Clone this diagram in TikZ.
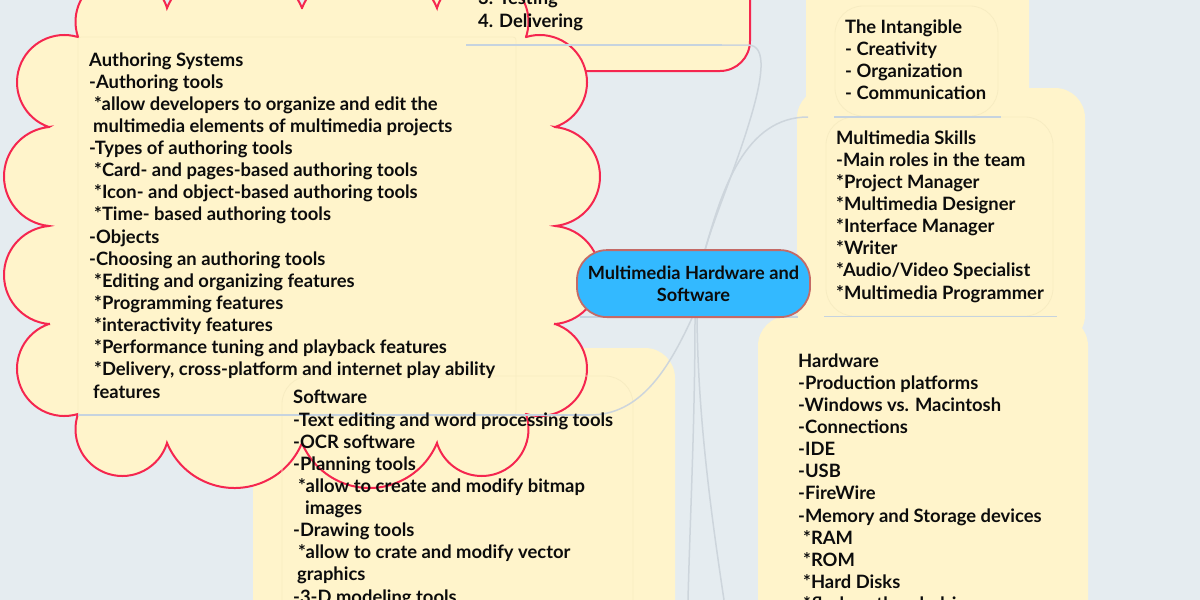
\documentclass[tikz,border=0pt]{standalone}
\usepackage{fontspec}
\setmainfont{Lato}
\definecolor{bgc}{HTML}{E5ECF0}
\definecolor{pan}{HTML}{FFF4CB}
\definecolor{redc}{HTML}{F5264F}
\definecolor{linec}{HTML}{CDD5DC}
\definecolor{ulinec}{HTML}{C6D3DF}
\definecolor{bluec}{HTML}{33B9FF}
\definecolor{bluerim}{HTML}{C46A66}
\definecolor{txt}{HTML}{0C0C0C}
\definecolor{innerc}{HTML}{F7ECC2}
\newcommand{\lobe}[5]{-- ([shift={(#4:#3)}]#1,#2) arc[start angle=#4,end angle=#5,radius=#3]}
\tikzset{
  panelbox/.style={fill=pan,draw=none,rounded corners=30pt},
  innerbox/.style={fill=pan,draw=innerc,line width=0.8pt,rounded corners=28pt},
  conn/.style={draw=linec,line width=1.5pt},
  uline/.style={draw=ulinec,line width=1.8pt},
  lbl/.style={anchor=north west,inner sep=0pt,align=left,text=txt,font=\fontsize{18.4}{22.13}\selectfont\bfseries},
}
\begin{document}
\begin{tikzpicture}[x=1pt,y=-1pt]
\useasboundingbox (0,0) rectangle (1200,600);
\fill[bgc] (0,0) rectangle (1200,600);
% named anchors
\coordinate (hub) at (705,250);
\coordinate (hubS) at (692,318);
\coordinate (hubD1) at (695,318);
\coordinate (hubD2) at (697,318);
\coordinate (endD1) at (688,600);
\coordinate (endD2) at (724,600);
\coordinate (skillEnd) at (808,117);
% panels
\fill[panelbox] (806,-40) rectangle (1029,130);
\fill[panelbox] (797,88) rectangle (1085,345);
\fill[panelbox] (758,316) rectangle (1088,640);
\fill[panelbox] (253,348) rectangle (675,640);
% top box
\draw[fill=pan,draw=redc,line width=2pt,rounded corners=30pt] (420,-40) rectangle (750,71);
% cloud
\draw[fill=pan,draw=redc,line width=2pt,line join=miter] (78,37)
 \lobe{122.3}{21.8}{46.8}{161.1}{342.8}
 \lobe{234.5}{36.1}{73.1}{202.6}{337.4}
 \lobe{369.5}{36.1}{73.1}{202.6}{337.4}
 \lobe{481.7}{21.8}{46.8}{197.2}{378.9}
 \lobe{539.7}{82.3}{47.3}{253.2}{431.1}
 \lobe{550.3}{176.5}{49.7}{275.4}{444.6}
 \lobe{550.8}{275}{49.2}{274.9}{445.1}
 \lobe{539.7}{368.7}{47.3}{-71.1}{106.8}
 \lobe{481.7}{429.2}{46.8}{-18.9}{162.8}
 \lobe{369.5}{414.9}{73.1}{22.6}{157.4}
 \lobe{234.5}{414.9}{73.1}{22.6}{157.4}
 \lobe{122.3}{429.2}{46.8}{17.2}{198.9}
 \lobe{64.3}{368.7}{47.3}{73.2}{251.1}
 \lobe{53.2}{275}{49.2}{94.9}{265.1}
 \lobe{53.7}{176.5}{49.7}{95.4}{264.6}
 \lobe{64.3}{82.3}{47.3}{108.9}{286.8}
 -- cycle;
% inner boxes
\draw[draw=innerc,line width=0.8pt,rounded corners=3pt] (78,37) rectangle (516,415);
\draw[draw=innerc,line width=0.8pt,rounded corners=28pt] (282,376) rectangle (633,640);
\draw[innerbox] (835,6) rectangle (998,116);
\draw[innerbox] (826,117) rectangle (1053,316);
% connectors
\draw[uline] (78,415) -- (590,415);
\draw[conn] (590,415) .. controls (640,415) and (668,370) .. (hubS);
\draw[uline] (466,45) -- (722,45);
\draw[conn] (722,45) -- (748,45) .. controls (768,45) and (762,80) .. (750,120) .. controls (735,170) and (715,215) .. (hub) -- (701,262);
\draw[conn] (hub) .. controls (722,190) and (745,117) .. (skillEnd);
\draw[conn] (hubD1) .. controls (695,420) and (690,520) .. (endD1);
\draw[conn] (hubD2) .. controls (698,420) and (712,520) .. (endD2);
\draw[uline] (834,117) -- (1001,117);
\draw[uline] (824,316.5) -- (1057,316.5);
\draw[uline] (580,317) -- (798,317);
% centre
\node[draw=bluerim,fill=bluec,line width=1.8pt,rounded corners=30pt,minimum width=233pt,minimum height=67pt,inner sep=0pt,align=center,text=txt,font=\fontsize{18.2}{22.13}\selectfont\bfseries] (root) at (693.5,283.6) {Multimedia Hardware and\\Software};
% texts
\node[lbl] (plan) at (478,-9) {3. Testing\\4. Delivering};
\node[lbl] (auth) at (89,52.2) {Authoring Systems\\-Authoring tools\\\hspace*{5pt}*allow developers to organize and edit the\\\hspace*{4pt}multimedia elements of multimedia projects\\-Types of authoring tools\\\hspace*{5pt}*Card- and pages-based authoring tools\\\hspace*{5pt}*Icon- and object-based authoring tools\\\hspace*{5pt}*Time- based authoring tools\\-Objects\\-Choosing an authoring tools\\\hspace*{5pt}*Editing and organizing features\\\hspace*{5pt}*Programming features\\\hspace*{5pt}*interactivity features\\\hspace*{5pt}*Performance tuning and playback features\\\hspace*{5pt}*Delivery, cross-platform and internet play ability\\\hspace*{4pt}features};
\node[lbl] (soft) at (293,390.2) {Software\\-Text editing and word processing tools\\-OCR software\\-Planning tools\\\hspace*{5pt}*allow to create and modify bitmap\\\hspace*{12pt}images\\-Drawing tools\\\hspace*{5pt}*allow to crate and modify vector\\\hspace*{4pt}graphics\\-3-D modeling tools};
\node[lbl] (intang) at (845,19.5) {The Intangible\\\hspace*{0pt}- Creativity\\- Organization\\- Communication};
\node[lbl] (skills) at (836,130.3) {Multimedia Skills\\-Main roles in the team\\*Project Manager\\*Multimedia Designer\\*Interface Manager\\*Writer\\*Audio/Video Specialist\\*Multimedia Programmer};
\node[lbl] (hard) at (798,353.3) {Hardware\\-Production platforms\\-Windows vs. Macintosh\\-Connections\\-IDE\\-USB\\-FireWire\\-Memory and Storage devices\\\hspace*{5pt}*RAM\\\hspace*{5pt}*ROM\\\hspace*{5pt}*Hard Disks\\\hspace*{5pt}*flash or thumb drives};
\end{tikzpicture}
\end{document}
